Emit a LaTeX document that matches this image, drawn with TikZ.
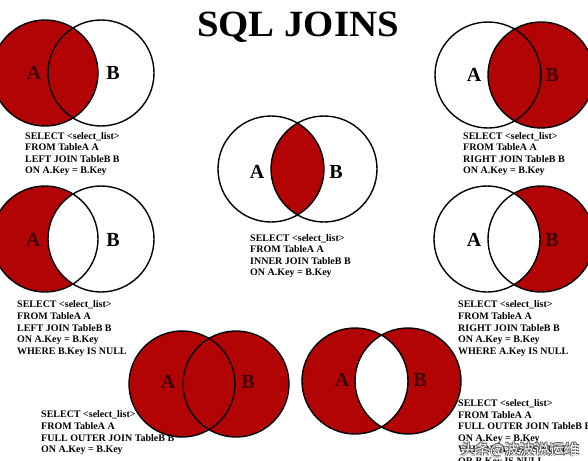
\documentclass[tikz,border=0pt]{standalone}
\usepackage{fontspec}
\setmainfont{Liberation Serif}
\newfontfamily\cjk{Noto Sans CJK SC}
\definecolor{jred}{RGB}{178,4,4}
\definecolor{lbldark}{RGB}{60,0,0}
\definecolor{wmgray}{RGB}{90,90,90}
\newcommand\rr{53pt}
\begin{document}
\begin{tikzpicture}[x=1pt,y=-1pt,
  sqltext/.style={anchor=base west, inner sep=0pt, font=\fontsize{10}{12}\selectfont\bfseries},
  setlbl/.style={inner sep=0pt, font=\fontsize{20}{24}\selectfont\bfseries},
  onred/.style={setlbl, text=lbldark},
  ring/.style={draw=black, line width=1.4pt},
  redfill/.style={fill=jred},
  wm/.style={anchor=west, inner sep=0pt, font=\fontsize{15}{18}\selectfont\cjk}]
\useasboundingbox (0,0) rectangle (588,460);
\fill[white] (0,0) rectangle (588,460);
\clip (0,0) rectangle (588,460);

% centres
\coordinate (A1) at (45,73);   \coordinate (B1) at (101,73);
\coordinate (A2) at (488,75);  \coordinate (B2) at (541,75);
\coordinate (A3) at (271,169); \coordinate (B3) at (324,169);
\coordinate (A4) at (45,239);  \coordinate (B4) at (101,239);
\coordinate (A5) at (487,239); \coordinate (B5) at (541,239);
\coordinate (A6) at (182,384); \coordinate (B6) at (236,384);
\coordinate (A7) at (355,381); \coordinate (B7) at (408,381);

% 1 left join
\fill[redfill] (A1) circle[radius=\rr];
% 2 right join
\fill[redfill] (B2) circle[radius=\rr];
% 3 inner join
\begin{scope}
  \clip (A3) circle[radius=\rr];
  \fill[redfill] (B3) circle[radius=\rr];
\end{scope}
% 4 left only
\fill[redfill] (A4) circle[radius=\rr];
\begin{scope}
  \clip (A4) circle[radius=\rr];
  \fill[white] (B4) circle[radius=\rr];
\end{scope}
% 5 right only
\fill[redfill] (B5) circle[radius=\rr];
\begin{scope}
  \clip (B5) circle[radius=\rr];
  \fill[white] (A5) circle[radius=\rr];
\end{scope}
% 6 full outer
\fill[redfill] (A6) circle[radius=\rr];
\fill[redfill] (B6) circle[radius=\rr];
% 7 full outer excluding
\fill[redfill, even odd rule] (A7) circle[radius=\rr] (B7) circle[radius=\rr];

% outlines
\foreach \c in {A1,B1,A2,B2,A3,B3,A4,B4,A5,B5,A6,B6,A7,B7}
  \draw[ring] (\c) circle[radius=\rr];

% labels
\node[onred]  (la1) at (34,73)   {A};
\node[setlbl] (lb1) at (113,73)  {B};
\node[setlbl] (la2) at (474,75)  {A};
\node[onred]  (lb2) at (552,75)  {B};
\node[setlbl] (la3) at (257,172) {A};
\node[setlbl] (lb3) at (336,172) {B};
\node[onred]  (la4) at (33,240)  {A};
\node[setlbl] (lb4) at (113,240) {B};
\node[setlbl] (la5) at (474,240) {A};
\node[onred]  (lb5) at (552,240) {B};
\node[onred]  (la6) at (168,382) {A};
\node[onred]  (lb6) at (248,382) {B};
\node[onred]  (la7) at (342,380) {A};
\node[onred]  (lb7) at (420,380) {B};

% title
\node[anchor=base, inner sep=0pt, xscale=1.05, font=\fontsize{37}{40}\selectfont\bfseries] (title) at (298,37) {SQL JOINS};

% query texts
\node[sqltext] (q1a) at (25,139)   {SELECT <select\_list>};
\node[sqltext] (q1b) at (25,150.6) {FROM TableA A};
\node[sqltext] (q1c) at (25,162.2) {LEFT JOIN TableB B};
\node[sqltext] (q1d) at (25,173.8) {ON A.Key = B.Key};

\node[sqltext] (q2a) at (463,139)   {SELECT <select\_list>};
\node[sqltext] (q2b) at (463,150.6) {FROM TableA A};
\node[sqltext] (q2c) at (463,162.2) {RIGHT JOIN TableB B};
\node[sqltext] (q2d) at (463,173.8) {ON A.Key = B.Key};

\node[sqltext] (q3a) at (250,241)   {SELECT <select\_list>};
\node[sqltext] (q3b) at (250,252.6) {FROM TableA A};
\node[sqltext] (q3c) at (250,264.2) {INNER JOIN TableB B};
\node[sqltext] (q3d) at (250,275.8) {ON A.Key = B.Key};

\node[sqltext] (q4a) at (17,307.5) {SELECT <select\_list>};
\node[sqltext] (q4b) at (17,319.3) {FROM TableA A};
\node[sqltext] (q4c) at (17,331.1) {LEFT JOIN TableB B};
\node[sqltext] (q4d) at (17,342.9) {ON A.Key = B.Key};
\node[sqltext] (q4e) at (17,354.7) {WHERE B.Key IS NULL};

\node[sqltext] (q5a) at (458,307.5) {SELECT <select\_list>};
\node[sqltext] (q5b) at (458,319.3) {FROM TableA A};
\node[sqltext] (q5c) at (458,331.1) {RIGHT JOIN TableB B};
\node[sqltext] (q5d) at (458,342.9) {ON A.Key = B.Key};
\node[sqltext] (q5e) at (458,354.7) {WHERE A.Key IS NULL};

\node[sqltext] (q6a) at (41,417.5) {SELECT <select\_list>};
\node[sqltext] (q6b) at (41,429.3) {FROM TableA A};
\node[sqltext] (q6c) at (41,441.1) {FULL OUTER JOIN TableB B};
\node[sqltext] (q6d) at (41,452.9) {ON A.Key = B.Key};

\node[sqltext] (q7a) at (458,406.5) {SELECT <select\_list>};
\node[sqltext] (q7b) at (458,418.1) {FROM TableA A};
\node[sqltext] (q7c) at (458,429.7) {FULL OUTER JOIN TableB B};
\node[sqltext] (q7d) at (458,441.3) {ON A.Key = B.Key};
\node[sqltext] (q7e) at (458,452.9) {WHERE A.Key IS NULL};
\node[sqltext] (q7f) at (458,464.5) {OR B.Key IS NULL};

% watermark
\node[wm, text=wmgray] (wm1) at (459.3,449.3) {头条@波波说运维};
\node[wm, text=wmgray] (wm2) at (460.7,450.7) {头条@波波说运维};
\node[wm, text=wmgray] (wm3) at (459.3,450.7) {头条@波波说运维};
\node[wm, text=wmgray] (wm4) at (460.7,449.3) {头条@波波说运维};
\node[wm, text=white]  (wm5) at (460,450)     {头条@波波说运维};
\end{tikzpicture}
\end{document}
